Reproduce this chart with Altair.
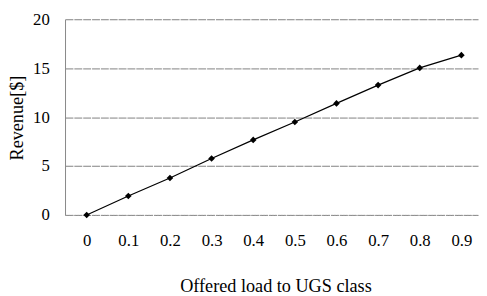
import altair as alt
import pandas as pd

loads = [0, 0.1, 0.2, 0.3, 0.4, 0.5, 0.6, 0.7, 0.8, 0.9]
revenue = [0.0, 1.93, 3.77, 5.77, 7.67, 9.5, 11.4, 13.27, 15.03, 16.33]

df = pd.DataFrame({"load": loads, "revenue": revenue})

FONT = "Liberation Serif, Times New Roman, serif"
FS = 17
TFS = 18.5

x = alt.X("load:Q",
          scale=alt.Scale(domain=[-0.052, 0.94], nice=False, zero=False),
          axis=alt.Axis(title="Offered load to UGS class", labelAngle=0,
                        values=loads,
                        labelExpr="datum.value == 0 ? '0' : format(datum.value, '.1f')",
                        ticks=False, domain=True, domainColor="#999999",
                        domainDash=[2, 1], domainWidth=1,
                        labelPadding=18, labelFontSize=FS, labelFont=FONT,
                        labelColor="#000000", labelFlush=False, labelOverlap=False,
                        titleFont=FONT, titleFontSize=TFS, titleFontWeight="normal",
                        titleColor="#000000", titleX=214, titleY=72,
                        titleBaseline="middle", grid=False))
y = alt.Y("revenue:Q",
          scale=alt.Scale(domain=[0, 20], nice=False),
          axis=alt.Axis(title="Revenue[$]", values=[0, 5, 10, 15, 20],
                        ticks=False, domain=True, domainColor="#888888",
                        domainWidth=1, labelPadding=16,
                        labelFontSize=FS, labelFont=FONT, labelColor="#000000",
                        titleFont=FONT, titleFontSize=TFS, titleFontWeight="normal",
                        titleColor="#000000", titleX=-49, titleY=100,
                        titleAngle=-90, titleBaseline="middle",
                        grid=True, gridColor="#808080", gridWidth=1,
                        gridDash=[8, 1]))

line = alt.Chart(df).mark_line(color="#000000", strokeWidth=1.2).encode(x=x, y=y)
pts = alt.Chart(df).mark_point(shape="diamond", filled=True, color="#000000",
                               size=45, opacity=1).encode(x=x, y=y)

chart = (line + pts).properties(
    width=420, height=199,
    autosize=alt.AutoSizeParams(type="none"),
    padding={"left": 58, "top": 9, "right": 1, "bottom": 80},
    background="#ffffff",
).configure_view(stroke=None)

chart.save("out.html", embed_options={"renderer": "svg", "actions": False})
